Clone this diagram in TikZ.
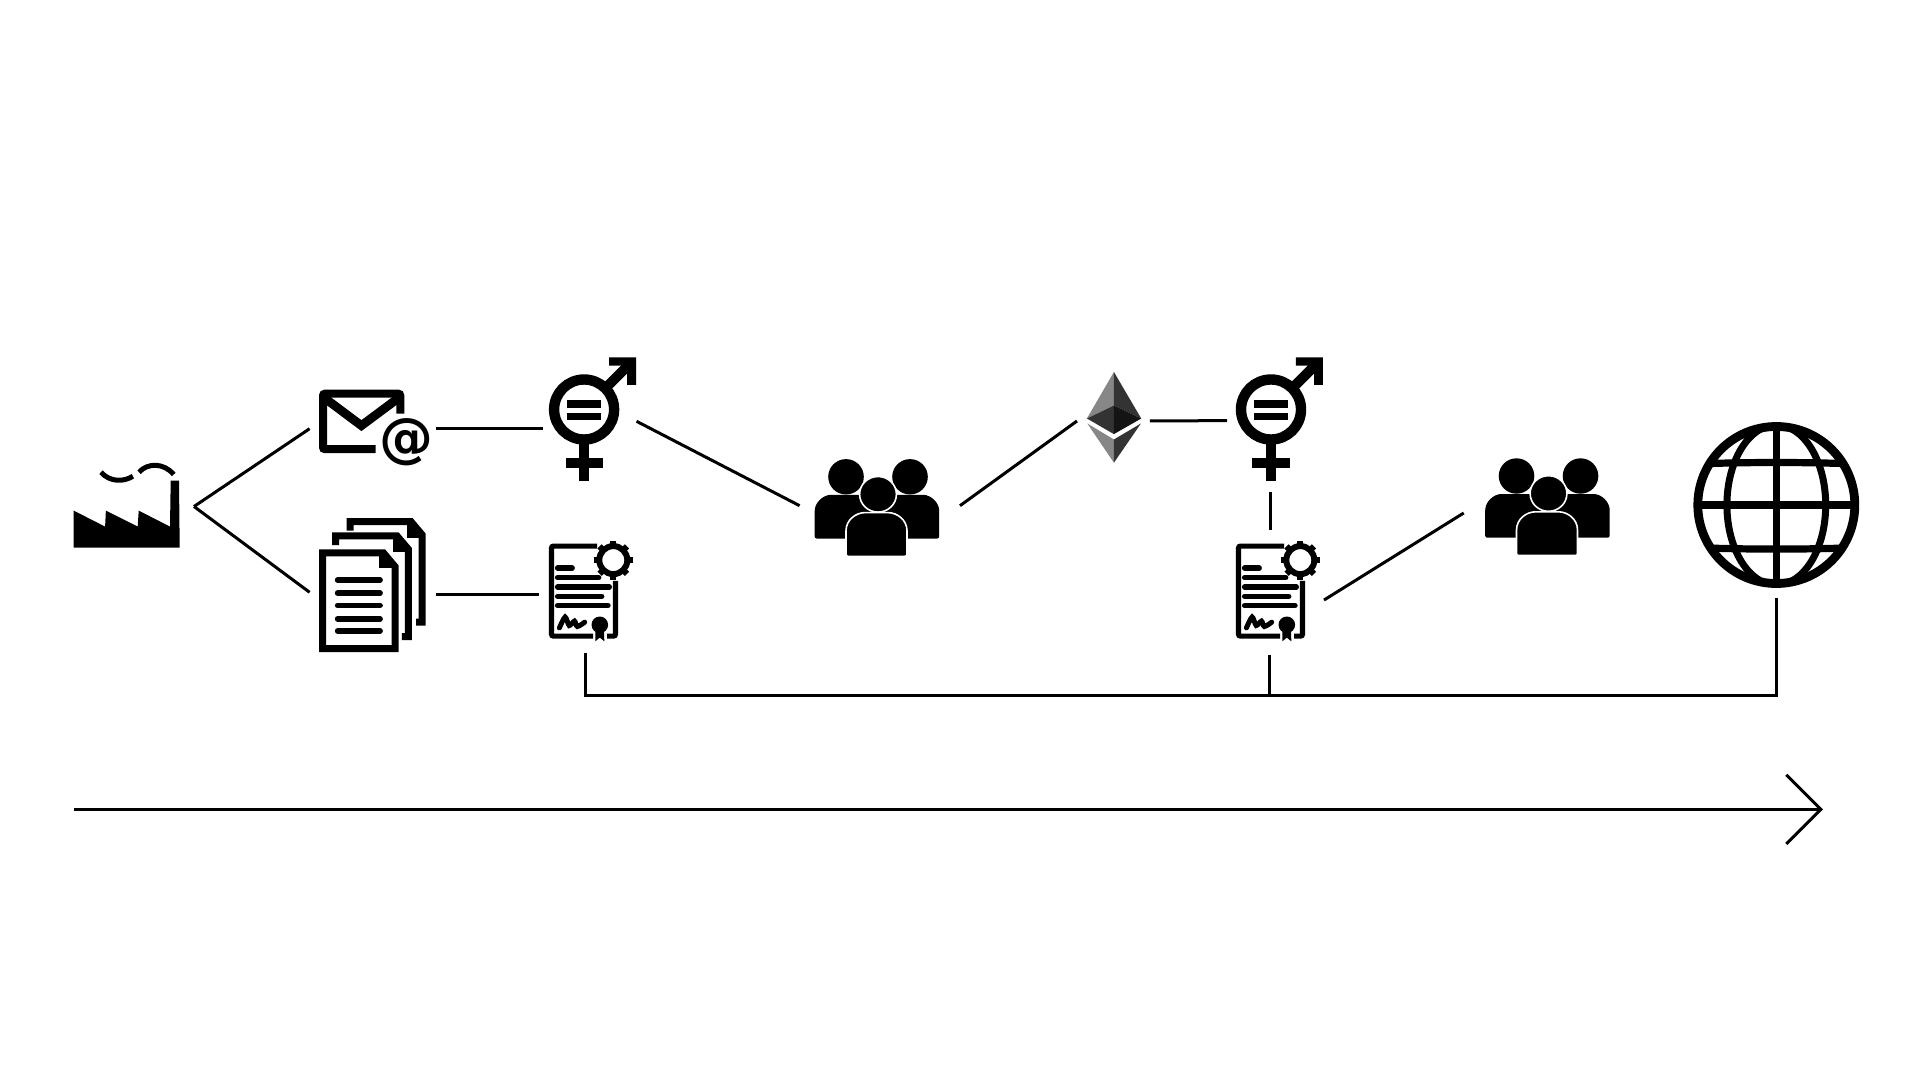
\documentclass[tikz,border=0pt]{standalone}
\usepackage{fontspec}
\usepackage{tikz}
\usetikzlibrary{arrows.meta}
\newfontfamily\atfont{DejaVu Sans}

\tikzset{
	iconbox/.style 2 args={inner sep=0pt, outer sep=0pt, minimum width=#1, minimum height=#2},
	link/.style={draw=black, line width=1.5pt},
	atsign/.style={inner sep=0pt, font=\atfont\bfseries\fontsize{27}{27}\selectfont},
	factoryicon/.pic={
		\fill (0,-37) -- (31.4,-21) -- (32.2,-37) -- (64,-21) -- (65,-37) -- (96.3,-21) -- (97,-67) -- (105.3,-67) -- (106,0) -- (0,0) -- cycle;
		\draw [line width=2.5pt] (27.3,-75.4) .. controls (36,-65.4) and (50,-65.4) .. (59.2,-71.4);
		\draw [line width=2.5pt] (65.3,-75.4) .. controls (74,-85) and (90,-85) .. (100,-73.1);
	},
	mailicon/.pic={
		\draw [line width=4pt, rounded corners=1pt] (81.3,24) -- (81.3,4) -- (4,4) -- (4,59.5) -- (56.7,59.5);
		\draw [line width=4.4pt] (6,8.7) -- (42.4,35.9) -- (79,8.7);
	},
	docsicon/.pic={
		\draw [line width=3.5pt, line join=miter] (3.5,3.3) -- (64.5,3.3) -- (76,17) -- (76,99) -- (3.5,99) -- cycle;
		\draw [line width=3.5pt] (63,3) -- (63,15) -- (76,15);
		\foreach \texty in {30.6,43.7,55.8,69.2,81.3}
			\draw [line width=2.9pt, line cap=round] (18.7,\texty) -- (61,\texty);
		\draw [line width=3.5pt] (16.7,-4.6) -- (16.7,-13.7) -- (78,-13.7) -- (89.4,-0.3) -- (89.4,87) -- (82.8,87);
		\draw [line width=3.5pt] (77,-13.7) -- (77,-1.3) -- (89.4,-1.3);
		\draw [line width=3.5pt] (31,-19) -- (31,-28) -- (92,-28) -- (103.2,-14.7) -- (103.2,72.6) -- (97,72.6);
		\draw [line width=3.5pt] (91.4,-28) -- (91.4,-15.4) -- (103.2,-15.4);
	},
	gendericon/.pic={
		\draw [line width=5.2pt] (0,0) circle [radius=30];
		\fill (-17,-9.6) rectangle (17.3,-1.9);
		\fill (-17,3.2) rectangle (17.3,10.5);
		\fill (-5,33) rectangle (5,71.6);
		\fill (-18.6,48) rectangle (18.6,58);
		\draw [line width=5pt] (21,-21) -- (44,-44);
		\fill (24.9,-52) -- (51.9,-52) -- (51.9,-24.7) -- (43,-24.7) -- (43,-44) -- (24.9,-44) -- cycle;
	},
	certicon/.pic={
		\draw [line width=2.6pt, rounded corners=1pt] (48,2.5) -- (2.5,2.5) -- (2.5,92.5) -- (44,92.5);
		\draw [line width=2.6pt, rounded corners=1pt] (58,92.5) -- (66.5,92.5) -- (66.5,37.3);
		\draw [line width=3pt] (64.3,16.5) circle [radius=14];
		\foreach \toothangle in {0,45,...,315}
			\draw [line width=3pt] (64.3,16.5) ++(\toothangle:14) -- ++(\toothangle:5.4);
		\foreach \liney/\lineend in {24.5/23.2,34/49.7,43.3/60.3,52.7/52.7,62/59}
			\draw [line width=2.7pt, line cap=round] (8.6,\liney) -- (\lineend,\liney);
		\draw [line width=2.5pt, line cap=round] plot [smooth] coordinates {(10.4,84.3) (16.1,73.5) (20.2,81.9) (25.5,77.5) (28.3,82.9) (35.7,78.6)};
		\fill (50.8,81.2) circle [radius=8.3];
		\fill (46.5,85) -- (55,85) -- (55.3,97.7) -- (50.8,94) -- (46.3,97.7) -- cycle;
	},
	peopleicon/.pic={
		\fill (-31,-32) ellipse [x radius=17.8, y radius=17.7];
		\fill (33,-32) ellipse [x radius=17.8, y radius=17.7];
		\fill [rounded corners=1pt] (-62.3,29.7) -- (-62.3,4) .. controls (-62.3,-6) and (-54,-14) .. (-44,-14) -- (44,-14) .. controls (54,-14) and (62.2,-6) .. (62.2,4) -- (62.2,29.7) -- cycle;
		\filldraw [draw=white, line width=0.8pt] (1,-14.5) ellipse [x radius=18.4, y radius=17.8];
		\filldraw [draw=white, line width=0.8pt, rounded corners=1pt] (-31,47.5) -- (-31,24) .. controls (-31,11) and (-21,3.8) .. (-10,3.8) -- (9,3.8) .. controls (20,3.8) and (30,11) .. (30,24) -- (30,47.5) -- cycle;
	},
	ethicon/.pic={
		\fill [black!47] (0,-48.5) -- (-27,-2) -- (0,-15) -- cycle;
		\fill [black!80] (0,-48.5) -- (27.3,-2) -- (0,-15) -- cycle;
		\fill [black!80] (-27,-2) -- (0,-15) -- (0,13.6) -- cycle;
		\fill [black!92] (27.3,-2) -- (0,-15) -- (0,13.6) -- cycle;
		\fill [black!47] (0,42.2) -- (-26.6,3) -- (0,19) -- cycle;
		\fill [black!80] (0,42.2) -- (27,3) -- (0,19) -- cycle;
	},
	globeicon/.pic={
		\begin{scope}
			\clip (0,0) circle [radius=80];
			\draw [line width=3.5pt] (0,0) ellipse [x radius=49.4, y radius=80];
			\draw [line width=3.6pt] (0,-80) -- (0,80);
			\draw [line width=3.6pt] (-80,0) -- (80,0);
			\draw [line width=3.6pt] (-80,-41) .. controls (-30,-43) and (30,-43) .. (80,-41);
			\draw [line width=3.6pt] (-80,42.6) .. controls (-30,44.6) and (30,44.6) .. (80,42.6);
		\end{scope}
		\draw [line width=4.4pt] (0,0) circle [radius=78.5];
	}
}

\begin{document}
\begin{tikzpicture}[x=0.5pt, y=-0.5pt]
	\fill [white] (0,0) rectangle (1920,1080);
	\useasboundingbox (0,0) rectangle (1920,1080);

	\pic at (73.7,547.6) {factoryicon};
	\pic at (319,389.7) {mailicon};
	\pic at (319,549.6) {docsicon};
	\pic at (584.1,409.5) {gendericon};
	\pic at (549,543.6) {certicon};
	\pic at (877,508.8) {peopleicon};
	\pic at (1113.9,420.5) {ethicon};
	\pic at (1271,409.5) {gendericon};
	\pic at (1236,543.6) {certicon};
	\pic at (1547.5,508) {peopleicon};
	\pic at (1776.3,505) {globeicon};
	\node [atsign] (mailat) at (406,442.5) {@};

	\node [iconbox={67pt}{40pt}] (factory) at (127,506.5) {};
	\node [iconbox={63.2pt}{40pt}] (mail) at (372.8,428.7) {};
	\node [iconbox={63.2pt}{50pt}] (docs) at (372.8,594.5) {};
	\node [iconbox={46.9pt}{50pt}] (gender1) at (589.6,428.7) {};
	\node [iconbox={46.4pt}{58.1pt}] (cert1) at (585,594.5) {};
	\node [iconbox={80.2pt}{40pt}] (people1) at (879.8,505.7) {};
	\node [iconbox={36.4pt}{40pt}] (eth) at (1113.4,421) {};
	\node [iconbox={43.4pt}{71.4pt}] (gender2) at (1270.4,420.6) {};
	\node [iconbox={53.6pt}{62.5pt}] (cert2) at (1270.4,592.5) {};
	\node [iconbox={86pt}{40pt}] (people2) at (1549.7,513) {};
	\node [iconbox={90pt}{92.6pt}] (globe) at (1776.3,505) {};
	\coordinate (busend) at (1776.3,695.5);
	\coordinate (timestart) at (74,809.4);
	\coordinate (timeend) at (1823,809.4);

	\path [link] (factory.east) -- (mail.west);
	\path [link] (factory.east) -- (docs.178.6);
	\path [link] (mail.east) -- (gender1.west);
	\path [link] (docs.east) -- (cert1.west);
	\path [link] (gender1.9) -- (people1.west);
	\path [link] (people1.east) -- (eth.west);
	\path [link] (eth.east) -- (gender2.west);
	\path [link] (gender2.south) -- (cert2.north);
	\path [link] (cert2.-8) -- (people2.west);
	\path [link] (cert1.south) |- (busend) -- (globe.south);
	\path [link] (cert2.-91) -- (cert2.-91 |- busend);
	\path [link, -{Straight Barb[length=17.3pt, width=34.5pt]}] (timestart) -- (timeend);
\end{tikzpicture}
\end{document}
